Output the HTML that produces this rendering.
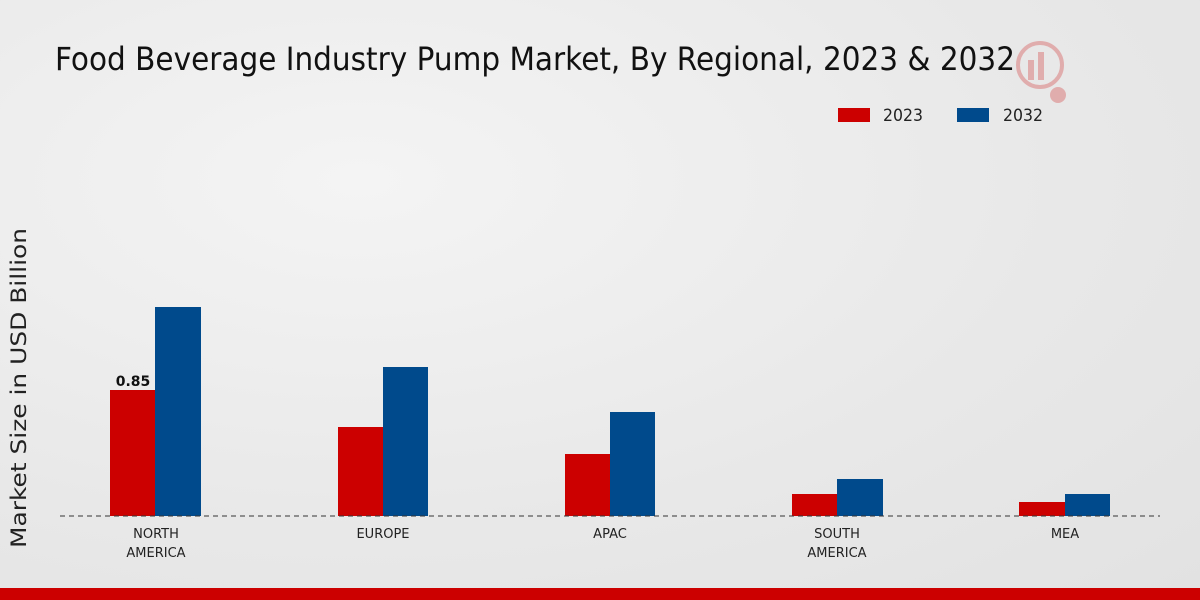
<!DOCTYPE html>
<html><head><meta charset="utf-8"><style>
html,body{margin:0;padding:0;width:1200px;height:600px;overflow:hidden}
body{background:radial-gradient(ellipse at 30% 30%,#f4f4f4 0%,#e8e8e8 60%,#e2e2e2 100%)}
</style></head><body>
<svg width="1200" height="600" xmlns="http://www.w3.org/2000/svg" style="position:absolute;left:0;top:0;font-family:'DejaVu Sans',sans-serif">
<text x="55" y="70" font-size="32" fill="#111" textLength="960" lengthAdjust="spacingAndGlyphs">Food Beverage Industry Pump Market, By Regional, 2023 &amp; 2032</text>
<g opacity="0.25" fill="#c00"><circle cx="1040" cy="65" r="22" fill="none" stroke="#c00" stroke-width="4"/><rect x="1028" y="60" width="6" height="20"/><rect x="1038" y="52" width="6" height="28"/><circle cx="1058" cy="95" r="8"/></g>
<rect x="838" y="108" width="32" height="14" fill="#cc0000"/>
<text x="883" y="121" font-size="17" fill="#222" textLength="40" lengthAdjust="spacingAndGlyphs">2023</text>
<rect x="957" y="108" width="32" height="14" fill="#004a8c"/>
<text x="1003" y="121" font-size="17" fill="#222" textLength="40" lengthAdjust="spacingAndGlyphs">2032</text>
<text transform="translate(26,388) rotate(-90)" text-anchor="middle" font-size="21" fill="#222" textLength="320" lengthAdjust="spacingAndGlyphs">Market Size in USD Billion</text>
<g fill="#cc0000">
<rect x="110" y="390" width="45" height="126"/>
<rect x="338" y="427" width="45" height="89"/>
<rect x="565" y="454" width="45" height="62"/>
<rect x="792" y="494" width="45" height="22"/>
<rect x="1019" y="502" width="46" height="14"/>
</g>
<g fill="#004a8c">
<rect x="155" y="307" width="46" height="209"/>
<rect x="383" y="367" width="45" height="149"/>
<rect x="610" y="412" width="45" height="104"/>
<rect x="837" y="479" width="46" height="37"/>
<rect x="1065" y="494" width="45" height="22"/>
</g>
<line x1="60" y1="516" x2="1160" y2="516" stroke="#333" stroke-dasharray="5,4" stroke-width="1"/>
<text x="133" y="386" text-anchor="middle" font-size="14" font-weight="bold" fill="#111">0.85</text>
<g font-size="13" fill="#222" text-anchor="middle">
<text x="156" y="538">NORTH</text><text x="156" y="557">AMERICA</text>
<text x="383" y="538">EUROPE</text>
<text x="610" y="538">APAC</text>
<text x="837" y="538">SOUTH</text><text x="837" y="557">AMERICA</text>
<text x="1065" y="538">MEA</text>
</g>
<rect x="0" y="588" width="1200" height="12" fill="#cc0000"/>
</svg>
</body></html>
